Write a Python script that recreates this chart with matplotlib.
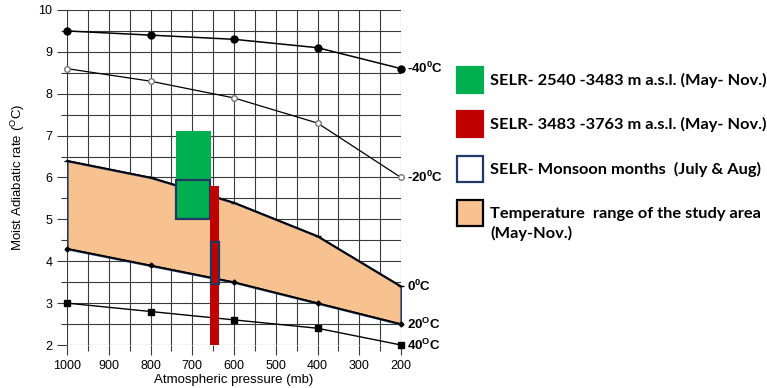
import matplotlib
matplotlib.use("Agg")
import matplotlib.pyplot as plt
from matplotlib.patches import Rectangle
from matplotlib.ticker import MultipleLocator

plt.rcParams['font.family'] = ['Liberation Sans', 'DejaVu Sans']
plt.rcParams['mathtext.fontset'] = 'custom'
plt.rcParams['mathtext.rm'] = 'Liberation Sans'
plt.rcParams['mathtext.bf'] = 'Liberation Sans:bold'

# Pressure levels (mb) and moist adiabatic lapse rates (°C per km)
pressure = [1000, 800, 600, 400, 200]
rate_m40 = [9.5, 9.4, 9.3, 9.1, 8.6]
rate_m20 = [8.6, 8.3, 7.9, 7.3, 6.0]
rate_0 = [6.4, 6.0, 5.4, 4.6, 3.4]
rate_20 = [4.3, 3.9, 3.5, 3.0, 2.5]
rate_40 = [3.0, 2.8, 2.6, 2.4, 2.0]

# SELR ranges: pressure span (mb) and lapse rate span (°C)
green_p = [655, 740]
green_r = [5.0, 7.1]
red_p = [635, 658]
red_r = [2.0, 5.8]
monsoon_upper_p = [657, 740]
monsoon_upper_r = [5.0, 5.93]
monsoon_lower_p = [637, 656]
monsoon_lower_r = [3.45, 4.47]

curve_labels = [r'-40$^{\mathbf{0}}$C', r'-20$^{\mathbf{0}}$C', r'0$^{\mathbf{0}}$C',
                r'20$^{\mathbf{O}}$C', r'40$^{\mathbf{O}}$C']

legend_labels = ['SELR- 2540 -3483 m a.s.l. (May- Nov.)',
                 'SELR- 3483 -3763 m a.s.l. (May- Nov.)',
                 'SELR- Monsoon months  (July & Aug)',
                 'Temperature  range of the study area\n(May-Nov.)']

W, H = 767, 388
fig = plt.figure(figsize=(W / 100, H / 100), dpi=100)
ax = fig.add_axes([67 / W, 1 - 345 / H, (401 - 67) / W, (345 - 10) / H])

green = '#00B050'
red = '#C00000'
navy = '#1F3864'
peach = '#F8C190'
gridc = '#3a3a3a'

ax.set_xlim(1000, 200)
ax.set_ylim(2, 10)
ax.xaxis.set_major_locator(MultipleLocator(100))
ax.xaxis.set_minor_locator(MultipleLocator(50))
ax.yaxis.set_major_locator(MultipleLocator(1))
ax.yaxis.set_minor_locator(MultipleLocator(0.5))
ax.grid(True, which='both', color=gridc, linewidth=0.8, zorder=0)
ax.set_axisbelow(True)
for s in ax.spines.values():
    s.set_visible(False)
ax.tick_params(which='both', direction='out', color=gridc, width=0.8, labelsize=9)
ax.tick_params(which='major', length=7)
ax.tick_params(which='minor', length=4)

# Temperature range of the study area
ax.fill_between(pressure, rate_20, rate_0, facecolor=peach, edgecolor=navy,
                linewidth=1.6, zorder=2)

ax.plot(pressure, rate_m40, color='black', lw=1.1, marker='o', ms=5, zorder=3, clip_on=False)
ax.plot(pressure, rate_m20, color='black', lw=0.9, marker='o', ms=4,
        mfc='white', mec='#777777', zorder=3, clip_on=False)
ax.plot(pressure, rate_0, color='black', lw=1.2, marker='_', ms=4, zorder=3, clip_on=False)
ax.plot(pressure, rate_20, color='black', lw=1.2, marker='D', ms=2.5, zorder=3, clip_on=False)
ax.plot(pressure, rate_40, color='black', lw=1.0, marker='s', ms=5, zorder=3, clip_on=False)

def box(p, r, face, edge=None, lw=0, z=4):
    ax.bar(p[0], r[1] - r[0], width=p[1] - p[0], bottom=r[0], align='edge',
           color=face, edgecolor=edge if edge else face, linewidth=lw, zorder=z)

box(green_p, green_r, green, z=4)
box(monsoon_upper_p, monsoon_upper_r, 'none', edge=navy, lw=1.6, z=5)
box(red_p, red_r, red, z=6)
box(monsoon_lower_p, monsoon_lower_r, 'none', edge=navy, lw=1.6, z=7)

ends = [rate_m40[-1], rate_m20[-1], rate_0[-1], rate_20[-1], rate_40[-1]]
for val, lab in zip(ends, curve_labels):
    ax.annotate(lab, (pressure[-1], val), xytext=(4, 0), textcoords='offset points',
                ha='left', va='center', fontsize=9.5, fontweight='bold',
                annotation_clip=False)

ax.set_xlabel('Atmospheric pressure (mb)', fontsize=9.5, labelpad=2)
ax.set_ylabel(r'Moist Adiabatic rate ($^{\rm O}$C)', fontsize=9.5, labelpad=8)

# Legend drawn in figure pixels
items = [(green, green, 80), (red, red, 124), ('white', navy, 169), (peach, 'black', 213)]
for (face, edge, yc), lab in zip(items, legend_labels):
    fig.patches.append(Rectangle((457 / W, 1 - (yc + 13) / H), 26 / W, 26 / H,
                                 facecolor=face, edgecolor=edge, linewidth=1.6,
                                 transform=fig.transFigure))
    ty = yc if '\n' not in lab else yc + 11
    fig.text(490 / W, 1 - ty / H, lab, ha='left', va='center', fontsize=11.8,
             fontweight='bold', family=['Lato', 'DejaVu Sans'], linespacing=1.35)

fig.savefig('out.png', dpi=100)
